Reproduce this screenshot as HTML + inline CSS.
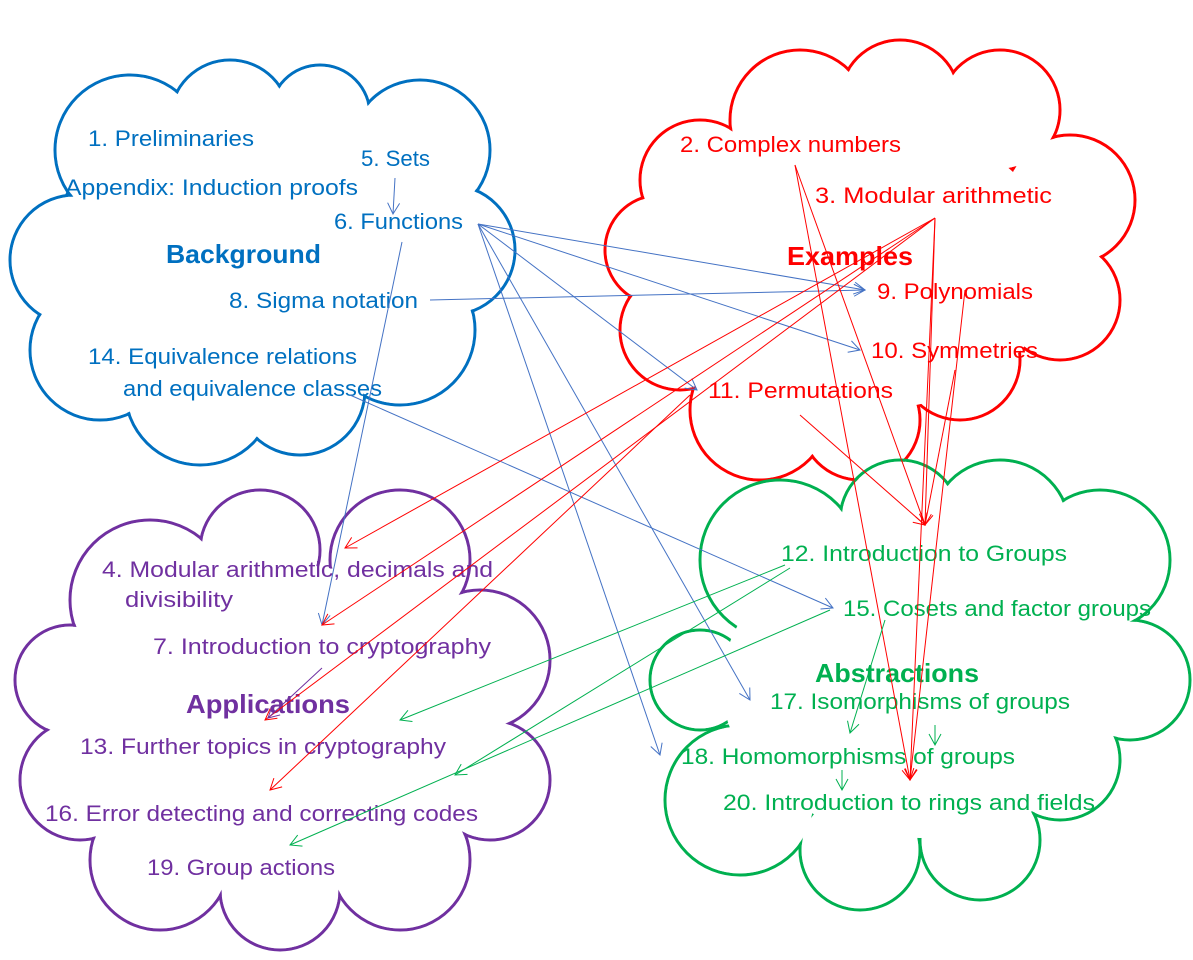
<!DOCTYPE html>
<html><head><meta charset="utf-8"><style>
html,body{margin:0;padding:0;background:#fff;}
svg text{font-family:"Liberation Sans",sans-serif;font-size:22px;}
</style></head><body>
<svg width="1193" height="955" viewBox="0 0 1193 955" xmlns="http://www.w3.org/2000/svg">
<defs>
<marker id="ab" markerWidth="14" markerHeight="14" refX="12" refY="7" orient="auto" markerUnits="userSpaceOnUse"><path d="M1,1 L12,7 L1,13" fill="none" stroke="#4472c4" stroke-width="1"/></marker>
<marker id="ar" markerWidth="14" markerHeight="14" refX="12" refY="7" orient="auto" markerUnits="userSpaceOnUse"><path d="M1,1 L12,7 L1,13" fill="none" stroke="#ff0000" stroke-width="1"/></marker>
<marker id="ag" markerWidth="14" markerHeight="14" refX="12" refY="7" orient="auto" markerUnits="userSpaceOnUse"><path d="M1,1 L12,7 L1,13" fill="none" stroke="#00b050" stroke-width="1"/></marker>
<marker id="ap" markerWidth="14" markerHeight="14" refX="12" refY="7" orient="auto" markerUnits="userSpaceOnUse"><path d="M1,1 L12,7 L1,13" fill="none" stroke="#7030a0" stroke-width="1"/></marker>
</defs>
<g id="clouds"></g>
<g id="texts">
<g fill="#0070c0">
<text x="88" y="146" textLength="166" lengthAdjust="spacingAndGlyphs">1. Preliminaries</text>
<text x="361" y="166" textLength="69" lengthAdjust="spacingAndGlyphs">5. Sets</text>
<text x="65" y="195" textLength="293" lengthAdjust="spacingAndGlyphs">Appendix: Induction proofs</text>
<text x="334" y="229" textLength="129" lengthAdjust="spacingAndGlyphs">6. Functions</text>
<text x="166" y="263" textLength="155" lengthAdjust="spacingAndGlyphs" font-weight="bold" style="font-size:26px">Background</text>
<text x="229" y="308" textLength="189" lengthAdjust="spacingAndGlyphs">8. Sigma notation</text>
<text x="88" y="364" textLength="269" lengthAdjust="spacingAndGlyphs">14. Equivalence relations</text>
<text x="123" y="396" textLength="259" lengthAdjust="spacingAndGlyphs">and equivalence classes</text>
</g>
<g fill="#ff0000">
<text x="680" y="152" textLength="221" lengthAdjust="spacingAndGlyphs">2. Complex numbers</text>
<text x="815" y="203" textLength="237" lengthAdjust="spacingAndGlyphs">3. Modular arithmetic</text>
<text x="787" y="265" textLength="126" lengthAdjust="spacingAndGlyphs" font-weight="bold" style="font-size:26px">Examples</text>
<text x="877" y="299" textLength="156" lengthAdjust="spacingAndGlyphs">9. Polynomials</text>
<text x="871" y="358" textLength="167" lengthAdjust="spacingAndGlyphs">10. Symmetries</text>
<text x="708" y="398" textLength="185" lengthAdjust="spacingAndGlyphs">11. Permutations</text>
</g>
<g fill="#00b050">
<text x="781" y="561" textLength="286" lengthAdjust="spacingAndGlyphs">12. Introduction to Groups</text>
<text x="843" y="616" textLength="308" lengthAdjust="spacingAndGlyphs">15. Cosets and factor groups</text>
<text x="815" y="682" textLength="164" lengthAdjust="spacingAndGlyphs" font-weight="bold" style="font-size:26px">Abstractions</text>
<text x="770" y="709" textLength="300" lengthAdjust="spacingAndGlyphs">17. Isomorphisms of groups</text>
<text x="681" y="764" textLength="334" lengthAdjust="spacingAndGlyphs">18. Homomorphisms of groups</text>
<text x="723" y="810" textLength="372" lengthAdjust="spacingAndGlyphs">20. Introduction to rings and fields</text>
</g>
<g fill="#7030a0">
<text x="102" y="577" textLength="391" lengthAdjust="spacingAndGlyphs">4. Modular arithmetic, decimals and</text>
<text x="125" y="607" textLength="108" lengthAdjust="spacingAndGlyphs">divisibility</text>
<text x="153" y="654" textLength="338" lengthAdjust="spacingAndGlyphs">7. Introduction to cryptography</text>
<text x="186" y="713" textLength="164" lengthAdjust="spacingAndGlyphs" font-weight="bold" style="font-size:26px">Applications</text>
<text x="80" y="754" textLength="366" lengthAdjust="spacingAndGlyphs">13. Further topics in cryptography</text>
<text x="45" y="821" textLength="433" lengthAdjust="spacingAndGlyphs">16. Error detecting and correcting codes</text>
<text x="147" y="875" textLength="188" lengthAdjust="spacingAndGlyphs">19. Group actions</text>
</g>
</g>
<g id="arrows"></g>
</svg>
<script>
const NS="http://www.w3.org/2000/svg";
const blueCircles=[[130,150,75],[230,120,60],[320,115,50],[420,150,70],[75,260,65],[100,350,70],[200,390,75],[300,390,65],[400,330,75],[450,250,65]];
const redCircles=[[700,180,60],[800,120,70],[900,100,60],[1000,110,60],[1070,200,65],[1060,300,60],[960,360,60],[860,420,60],[760,410,70],[680,330,60],[660,250,55]];
const greenCircles=[[780,560,80],[900,520,60],[1000,530,70],[1100,560,70],[1130,680,60],[1060,760,60],[980,840,60],[860,850,60],[740,800,75],[700,680,50]];
const purpleCircles=[[150,600,80],[260,550,60],[400,560,70],[480,660,70],[490,780,60],[400,860,70],[280,890,60],[160,860,70],[80,780,60],[70,680,55]];
const centerFills=[[270,265,170],[870,265,170],[920,685,180],[280,725,190]];
const cloudColors=["#0070c0","#ff0000","#00b050","#7030a0"];
const cloudNames=["background-cloud","examples-cloud","abstractions-cloud","applications-cloud"];
const cg=document.getElementById("clouds");
[blueCircles,redCircles,greenCircles,purpleCircles].forEach((cs,i)=>{
  const g=document.createElementNS(NS,"g");
  
  
  cs.forEach(c=>{const e=document.createElementNS(NS,"circle");e.setAttribute("cx",c[0]);e.setAttribute("cy",c[1]);e.setAttribute("r",c[2]);e.setAttribute("fill","none");e.setAttribute("stroke",cloudColors[i]);e.setAttribute("stroke-width","3");g.appendChild(e);});
  cs.forEach(c=>{const e=document.createElementNS(NS,"circle");e.setAttribute("cx",c[0]);e.setAttribute("cy",c[1]);e.setAttribute("r",c[2]-1.6);e.setAttribute("fill","#fff");g.appendChild(e);});
  const f=centerFills[i];
  const e=document.createElementNS(NS,"ellipse");e.setAttribute("cx",f[0]);e.setAttribute("cy",f[1]);e.setAttribute("rx",f[2]*1.1);e.setAttribute("ry",f[2]*0.85);e.setAttribute("fill","#fff");g.appendChild(e);
  cg.appendChild(g);
});
const blueEdges=[[395,178,393,214],[478,224,865,290],[478,224,860,350],[478,224,697,390],[478,224,750,700],[478,224,660,755],[402,242,322,625],[430,300,865,290],[350,395,833,608]];
const redEdges=[[935,218,345,548],[935,218,322,625],[935,218,265,720],[935,218,925,525],[935,218,910,780],[795,165,925,525],[795,165,910,780],[690,395,270,790],[800,415,925,525],[965,290,910,780],[955,370,925,525]];
const greenEdges=[[785,565,400,720],[790,568,455,775],[830,610,290,845],[885,620,850,733],[935,725,935,745],[842,770,842,790]];
const purpleEdges=[[322,668,268,718]];
const ag=document.getElementById("arrows");
function draw(es,col,m,nm){es.forEach(e=>{const l=document.createElementNS(NS,"line");l.setAttribute("x1",e[0]);l.setAttribute("y1",e[1]);l.setAttribute("x2",e[2]);l.setAttribute("y2",e[3]);l.setAttribute("stroke",col);l.setAttribute("stroke-width","1");l.setAttribute("marker-end","url(#"+m+")");


ag.appendChild(l);});}
draw(blueEdges,"#4472c4","ab","background-dependency-arrow");
draw(redEdges,"#ff0000","ar","examples-dependency-arrow");
draw(greenEdges,"#00b050","ag","abstractions-dependency-arrow");
draw(purpleEdges,"#7030a0","ap","applications-dependency-arrow");
</script>
</body></html>
